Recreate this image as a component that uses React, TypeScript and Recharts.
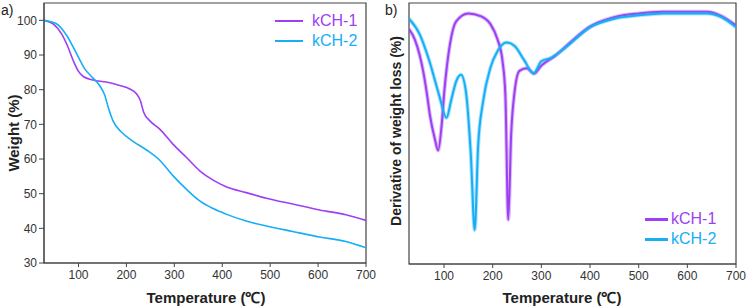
import React from 'react';
import { LineChart, Line, XAxis, YAxis, ReferenceArea } from 'recharts';

const PURPLE = '#9D3FF2';
const BLUE = '#17AEF6';
const FONT = '"Liberation Sans", Arial, sans-serif';

const tempTicks = [100, 200, 300, 400, 500, 600, 700];
const weightTicks = [30, 40, 50, 60, 70, 80, 90, 100];

// TGA: temperature (°C) -> weight (%)
const tgaTemp1 = [28, 47, 65, 78, 89, 99, 110, 130, 158, 186, 207, 221, 229, 236, 249, 269, 297, 325, 353, 381, 408, 450, 492, 547, 603, 658, 700];
const tgaKCH1 = [100, 99, 96, 92.3, 88.4, 85.5, 83.8, 82.8, 82.2, 81.2, 80.2, 78.8, 76.9, 73.5, 71, 68.7, 64.3, 60.5, 56.6, 53.9, 52, 50.3, 48.7, 47, 45.3, 43.9, 42.3];
const tgaTemp2 = [28, 54, 75, 96, 113, 130, 144, 155, 162, 172, 190, 214, 242, 269, 297, 325, 353, 381, 408, 450, 492, 547, 603, 658, 700];
const tgaKCH2 = [100, 99, 95.7, 90.4, 86, 83.4, 81.2, 78.3, 74.9, 71, 67.7, 65.1, 62.6, 59.7, 55.2, 51.3, 47.9, 45.7, 44.1, 42.1, 40.7, 39.1, 37.5, 36.2, 34.4];

// DTG: temperature (°C) -> derivative (arbitrary units)
const dtgTemp1 = [28, 40, 50, 57, 65, 71, 81, 88, 95, 101, 112, 125, 150, 175, 195, 210, 220, 226, 232, 238, 245, 255, 270, 285, 300, 330, 360, 400, 450, 500, 550, 600, 640, 670, 700];
const dtgKCH1 = [90, 86, 80, 74, 65, 57, 48, 43.5, 53, 67, 84, 93, 96, 95, 92, 86, 78, 65, 17, 50, 66, 74, 75, 73, 76, 80, 85, 91, 94.6, 96, 96.6, 96.6, 96.6, 95, 91.4];
const dtgTemp2 = [28, 50, 70, 90, 105, 115, 125, 135, 145, 155, 163, 170, 180, 195, 210, 228, 245, 265, 284, 300, 320, 350, 400, 450, 500, 550, 600, 640, 670, 700];
const dtgKCH2 = [94, 88, 77.7, 64.6, 56, 63, 70, 72.5, 66, 42, 13, 45, 62, 75, 81.6, 84.9, 83.5, 78, 73, 77.7, 79, 83, 90.7, 94, 95.3, 96, 96, 96, 94.6, 90.7];

const toRows = (t: number[], v: number[]) => t.map((x, i) => ({ t: x, v: v[i] }));

const tickStyle = { fontSize: 12, fill: '#333', fontFamily: FONT };
const axisStroke = '#444';

const Title: React.FC<{ x: number; y: number; rotate?: boolean; size?: number; children: React.ReactNode }> = ({ x, y, rotate, size = 15, children }) => (
  <div
    style={{
      position: 'absolute',
      left: x,
      top: y,
      transform: `translate(-50%, -50%)${rotate ? ' rotate(-90deg)' : ''}`,
      whiteSpace: 'nowrap',
      fontFamily: FONT,
      fontWeight: 'bold',
      fontSize: size,
      color: '#222',
    }}
  >
    {children}
  </div>
);

const TempTitle: React.FC<{ x: number }> = ({ x }) => (
  <Title x={x} y={297}>
    Temperature (<span style={{ fontFamily: '"Liberation Serif", serif' }}>℃</span>)
  </Title>
);

const LegendItem: React.FC<{ x: number; y: number; color: string; label: string; thick?: boolean }> = ({ x, y, color, label, thick }) => (
  <div style={{ position: 'absolute', left: x, top: y - 10, height: 20, display: 'flex', alignItems: 'center', fontFamily: FONT, fontSize: 16, color }}>
    <div style={{ width: thick ? 23 : 28, height: thick ? 3 : 1.5, background: color, marginRight: thick ? 3 : 9 }} />
    {label}
  </div>
);

export default function App() {
  return (
    <div style={{ position: 'absolute', left: 0, top: 0, width: 747, height: 308, background: '#fff' }}>
      <div style={{ position: 'absolute', left: 0, top: 0 }}>
        <LineChart width={380} height={308} margin={{ top: 3, right: 14, bottom: 0, left: 0 }}>
          <XAxis
            dataKey="t"
            type="number"
            domain={[28, 700]}
            ticks={tempTicks}
            allowDataOverflow
            height={45}
            stroke={axisStroke}
            tick={tickStyle}
            tickSize={4}
            tickMargin={3}
          />
          <YAxis
            type="number"
            domain={[30, 105]}
            ticks={weightTicks}
            allowDataOverflow
            width={44}
            stroke={axisStroke}
            tick={tickStyle}
            tickSize={5}
            tickMargin={2}
          />
          <ReferenceArea x1={28} x2={700} y1={30} y2={105} fill="none" stroke={axisStroke} strokeWidth={1.2} ifOverflow="visible" />
          <Line data={toRows(tgaTemp1, tgaKCH1)} dataKey="v" type="monotone" stroke={PURPLE} strokeWidth={1.6} dot={false} isAnimationActive={false} />
          <Line data={toRows(tgaTemp2, tgaKCH2)} dataKey="v" type="monotone" stroke={BLUE} strokeWidth={1.6} dot={false} isAnimationActive={false} />
        </LineChart>
      </div>
      <div style={{ position: 'absolute', left: 380, top: 0 }}>
        <LineChart width={367} height={308} margin={{ top: 3, right: 11, bottom: 0, left: 29 }}>
          <XAxis
            dataKey="t"
            type="number"
            domain={[28, 700]}
            ticks={tempTicks}
            allowDataOverflow
            height={44}
            stroke={axisStroke}
            tick={tickStyle}
            tickSize={4}
            tickMargin={3}
          />
          <YAxis type="number" domain={[0, 100]} hide />
          <ReferenceArea x1={28} x2={700} y1={0} y2={100} fill="none" stroke={axisStroke} strokeWidth={1.2} ifOverflow="visible" />
          {/* soft underlay gives the noisy DTG traces their fuzzy width */}
          <Line data={toRows(dtgTemp1, dtgKCH1)} dataKey="v" type="monotone" stroke={PURPLE} strokeOpacity={0.35} strokeWidth={4} dot={false} isAnimationActive={false} />
          <Line data={toRows(dtgTemp1, dtgKCH1)} dataKey="v" type="monotone" stroke={PURPLE} strokeWidth={2} dot={false} isAnimationActive={false} />
          <Line data={toRows(dtgTemp2, dtgKCH2)} dataKey="v" type="monotone" stroke={BLUE} strokeOpacity={0.35} strokeWidth={4} dot={false} isAnimationActive={false} />
          <Line data={toRows(dtgTemp2, dtgKCH2)} dataKey="v" type="monotone" stroke={BLUE} strokeWidth={2} dot={false} isAnimationActive={false} />
        </LineChart>
      </div>

      <div style={{ position: 'absolute', left: 1, top: 2, fontFamily: FONT, fontSize: 14, color: '#222' }}>a)</div>
      <div style={{ position: 'absolute', left: 385, top: 2, fontFamily: FONT, fontSize: 14, color: '#222' }}>b)</div>

      <Title x={13} y={133} rotate>Weight (%)</Title>
      <Title x={396} y={131} rotate size={14}>Derivative of weight loss (%)</Title>
      <TempTitle x={206} />
      <TempTitle x={562} />

      <LegendItem x={275} y={21} color={PURPLE} label="kCH-1" />
      <LegendItem x={275} y={41} color={BLUE} label="kCH-2" />
      <LegendItem x={645} y={219} color={PURPLE} label="kCH-1" thick />
      <LegendItem x={645} y={239} color={BLUE} label="kCH-2" thick />
    </div>
  );
}
